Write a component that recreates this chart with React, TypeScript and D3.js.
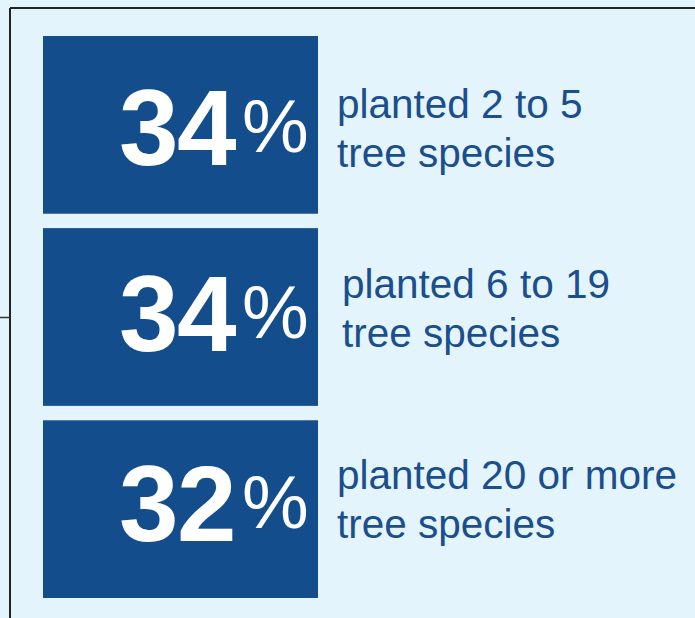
import React from "react";
import * as d3 from "d3";

const categories = ["2 to 5", "6 to 19", "20 or more"];
const values = [34, 34, 32];
const labelLine1 = ["planted 2 to 5", "planted 6 to 19", "planted 20 or more"];
const labelLine2 = ["tree species", "tree species", "tree species"];

// layout tweaks per row (not data)
const LAYOUT = {
  labelIndent: [0, 5, 0],
  numBaseline: [129, 123, 121],
  labelBaseline: [82, 70, 69],
  labelGap: 49,
};

const W = 695;
const H = 618;
const BG = "#E3F4FC";
const BOX = "#134D8B";
const TXT = "#1A4E8D";
const FONT = "'Liberation Sans', Arial, Helvetica, sans-serif";

export default function App() {
  const y = d3
    .scaleBand<string>()
    .domain(categories)
    .range([36, 598])
    .paddingInner(0.075)
    .paddingOuter(0);
  const boxLeft = 43;
  const boxRight = 318;
  const bw = y.bandwidth();

  return (
    <svg
      width={W}
      height={H}
      style={{ position: "absolute", left: 0, top: 0, display: "block" }}
    >
      <rect x={0} y={0} width={W} height={H} fill={BG} />
      <line x1={10} y1={8} x2={W} y2={8} stroke="#222" strokeWidth={2} />
      <line x1={10} y1={8} x2={10} y2={H} stroke="#222" strokeWidth={2} />
      <line x1={0} y1={317.5} x2={10} y2={317.5} stroke="#333" strokeWidth={1.5} />
      {categories.map((c, i) => {
        const top = y(c)!;
        const numBase = top + LAYOUT.numBaseline[i];
        const l1 = top + LAYOUT.labelBaseline[i];
        const lx = 337 + LAYOUT.labelIndent[i];
        return (
          <g key={c}>
            <rect x={boxLeft} y={top} width={boxRight - boxLeft} height={bw} fill={BOX} />
            <text x={boxLeft + 76} y={numBase} fontFamily={FONT} fill="#fff">
              <tspan fontSize={107} fontWeight="bold" letterSpacing={-1.5}>
                {values[i]}
              </tspan>
              <tspan fontSize={75} dx={7} dy={-13}>
                %
              </tspan>
            </text>
            <text x={lx} y={l1} fontFamily={FONT} fontSize={40.5} fill={TXT}>
              <tspan>{labelLine1[i]}</tspan>
              <tspan x={lx} dy={LAYOUT.labelGap}>
                {labelLine2[i]}
              </tspan>
            </text>
          </g>
        );
      })}
    </svg>
  );
}
